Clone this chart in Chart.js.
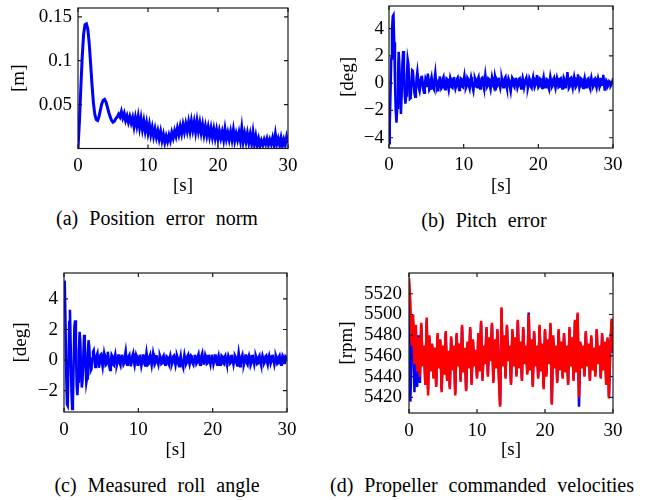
<!DOCTYPE html>
<html>
<head>
<meta charset="utf-8">
<script src="https://cdn.jsdelivr.net/npm/chart.js@4.4.1/dist/chart.umd.min.js"></script>
<style>
    html, body { margin: 0; padding: 0; background: #fff; }
    body { width: 655px; height: 500px; position: relative; overflow: hidden; }
    canvas { position: absolute; }
    .cap {
        position: absolute; width: 330px; text-align: center; white-space: nowrap;
        font-family: "Liberation Serif", "Times New Roman", serif; font-size: 20px;
        line-height: 24px; word-spacing: 6px; color: #000;
    }
</style>
</head>
<body>
<canvas id="chartA" width="305" height="200" style="left:0;top:0"></canvas>
<canvas id="chartB" width="305" height="200" style="left:320px;top:0"></canvas>
<canvas id="chartC" width="305" height="200" style="left:0;top:262px"></canvas>
<canvas id="chartD" width="305" height="200" style="left:320px;top:262px"></canvas>
<div class="cap" style="left:-8px;top:206px">(a) Position error norm</div>
<div class="cap" style="left:319px;top:208px">(b) Pitch error</div>
<div class="cap" style="left:-8px;top:473px">(c) Measured roll angle</div>
<div class="cap" style="left:317px;top:473px">(d) Propeller commanded velocities</div>
<script>
"use strict";

// time axis ticks, shared by all four plots [s]
var timeTicks = [0, 10, 20, 30];

// (a) position error norm [m], sampled every 0.2 s
var stepA = 0.2;
var posErr = [
    0, 0.030, 0.068, 0.104, 0.130, 0.141, 0.142, 0.136, 0.120, 0.097,
    0.073, 0.052, 0.039, 0.033, 0.032, 0.036, 0.044, 0.051, 0.055, 0.056,
    0.053, 0.047, 0.041, 0.036, 0.032, 0.030, 0.031, 0.034, 0.036, 0.039,
    0.036, 0.042, 0.035, 0.040, 0.032, 0.037, 0.030, 0.036, 0.029, 0.035,
    0.025, 0.035, 0.026, 0.036, 0.024, 0.034, 0.022, 0.031, 0.020, 0.029,
    0.018, 0.027, 0.016, 0.024, 0.014, 0.022, 0.013, 0.020, 0.011, 0.019,
    0.009, 0.016, 0.007, 0.014, 0.008, 0.015, 0.009, 0.018, 0.012, 0.020,
    0.014, 0.023, 0.016, 0.025, 0.017, 0.027, 0.019, 0.028, 0.020, 0.030,
    0.020, 0.031, 0.021, 0.030, 0.019, 0.031, 0.020, 0.029, 0.018, 0.027,
    0.016, 0.025, 0.015, 0.024, 0.014, 0.023, 0.013, 0.022, 0.012, 0.021,
    0.011, 0.020, 0.012, 0.019, 0.010, 0.022, 0.011, 0.018, 0.010, 0.019,
    0.010, 0.021, 0.009, 0.017, 0.010, 0.018, 0.009, 0.023, 0.008, 0.017,
    0.008, 0.017, 0.007, 0.016, 0.006, 0.018, 0.005, 0.014, 0.004, 0.011,
    0.003, 0.009, 0.004, 0.010, 0.005, 0.011, 0.004, 0.010, 0.005, 0.012,
    0.004, 0.016, 0.005, 0.011, 0.004, 0.012, 0.003, 0.010, 0.004, 0.013,
    0.006
];
var ticksA = [0.05, 0.1, 0.15];

// (b) pitch error [deg], sampled every 0.1 s
var stepB = 0.1;
var pitchErr = [
    -4.4, -3.0, -0.8, 1.8, 3.8, 4.9, 5.0, 3.0, 0.2, -2.0,
    -2.9, -1.8, 0.5, 2.3, 1.2, -1.0, -2.25, -0.8, 1.5, 2.35,
    1.0, -0.8, -1.5, -0.9, 0.6, 1.75, 1.4, 0.0, -1.15, -1.1,
    -0.2, 0.95, 0.9, 0.1, -0.7, -1.0, -0.5, 0.4, 0.85, 0.3,
    -0.4, -0.6, -0.2, 0.4, 0.55, 0.1, -0.5, -0.7, -0.1, 0.4,
    0.3, -0.2, 0.7, 0.2, -0.5, -0.4, 0.2, 0.45, 0.0, -0.35,
    -0.45, 0.3, 0.75, 0.1, -0.3, -0.1, -0.6, 0.2, 0.5, 0.0,
    -0.4, -0.3, 0.3, 0.45, -0.1, -0.45, -0.2, 0.35, 0.3, -0.2,
    -0.5, -0.1, 0.4, 0.2, -0.3, -0.35, 0.25, 0.45, -0.05, -0.4,
    -0.2, 0.3, 0.4, -0.1, -0.5, -0.15, 0.35, 0.3, -0.25, -0.3,
    0.2, 0.55, 0.1, -0.35, -0.2, 0.4, 0.3, -0.2, -0.4, 0.1,
    0.45, 0.2, -0.3, -0.55, 0.0, 0.4, 0.25, -0.25, -0.3, 0.3,
    0.45, -0.05, -0.4, -0.1, 0.35, 0.4, -0.1, -0.35, 0.1, 0.6,
    0.15, -0.3, -0.2, 0.35, 0.3, -0.2, -0.45, 0.0, 0.45, 0.2,
    -0.25, -0.35, 0.5, 0.25, -0.3, -0.2, 0.3, 0.4, -0.1, -0.35,
    0.0, 0.4, 0.15, -0.3, -0.25, 0.35, 0.45, -0.15, -0.4, 0.05,
    0.35, 0.2, -0.3, -0.6, -0.1, 0.4, 0.3, -0.2, -0.3, 0.25,
    0.4, 0.0, -0.35, -0.15, 0.3, 0.35, -0.1, -0.4, 0.1, 0.4,
    0.15, -0.3, -0.3, 0.25, 0.4, 0.0, -0.35, -0.1, 0.35, 0.2,
    -0.25, -0.35, 0.2, 0.45, 0.05, -0.3, -0.15, 0.3, 0.6, 0.1,
    -0.3, -0.2, 0.35, 0.3, -0.2, -0.35, 0.2, 0.45, -0.05, -0.3,
    -0.15, 0.3, 0.25, -0.25, -0.4, 0.1, 0.5, 0.2, -0.3, -0.2,
    0.3, 0.4, -0.1, -0.35, 0.05, 0.4, 0.2, -0.3, -0.25, 0.3,
    0.35, -0.1, -0.4, 0.0, 0.4, 0.25, -0.3, -0.2, 0.3, 0.8,
    0.2, -0.35, -0.25, 0.35, 0.4, -0.1, -0.35, 0.1, 0.45, 0.15,
    -0.3, -0.2, 0.3, 0.65, 0.1, -0.35, -0.15, 0.35, 0.3, -0.25,
    -0.35, 0.15, 0.4, 0.05, -0.3, -0.1, 0.3, 0.35, -0.2, -0.35,
    0.1, 0.4, 0.1, -0.3, -0.2, 0.3, 0.35, -0.15, -0.35, 0.05,
    0.35, 0.1, -0.3, -0.2, 0.3, 0.35, -0.2, 0.6, 0.0, -0.55,
    -0.1, 0.2, 0.1, -0.25, -0.15, 0.15, 0.1, -0.2, -0.1, 0.1,
    -0.1
];
var ticksB = [-4, -2, 0, 2, 4];

// (c) measured roll angle [deg], sampled every 0.1 s
var stepC = 0.1;
var rollAngle = [
    4.0, 5.2, 2.5, -1.0, -2.9, -3.0, -0.5, 2.5, 3.3, 1.0,
    -2.0, -3.2, -2.8, -0.2, 2.2, 2.6, 1.0, -1.6, -2.3, -1.4,
    0.6, 1.85, 1.2, -0.8, -1.8, -1.3, 0.3, 1.65, 1.2, -0.5,
    -1.5, -1.2, 0.3, 1.3, 0.9, -0.3, -0.7, -0.6, 0.1, 0.55,
    0.65, 0.1, -0.45, -0.3, 0.3, 0.45, -0.1, -0.5, -0.2, 0.35,
    0.4, -0.15, -0.45, 0.0, 0.45, 0.2, -0.35, -0.3, 0.25, 0.55,
    0.1, -0.45, -0.65, -0.1, 0.35, 0.25, -0.3, -0.35, 0.2, 0.4,
    0.0, -0.35, -0.15, 0.3, 0.3, -0.2, -0.35, 0.1, 0.35, 0.05,
    -0.3, -0.2, 0.3, 0.6, 0.1, -0.3, -0.25, 0.25, 0.35, -0.1,
    -0.4, -0.1, 0.3, 0.45, -0.1, -0.35, 0.0, 0.35, 0.2, -0.3,
    -0.3, 0.15, 0.35, -0.05, -0.4, -0.15, 0.3, 0.3, -0.2, -0.35,
    0.1, 0.5, 0.15, -0.3, -0.25, 0.2, 0.35, -0.05, -0.35, 0.0,
    0.45, 0.2, -0.3, -0.2, 0.25, 0.3, -0.1, -0.3, 0.05, 0.3,
    0.15, -0.25, -0.2, 0.2, 0.3, -0.05, -0.3, -0.1, 0.25, 0.2,
    -0.2, -0.3, 0.1, 0.3, 0.0, -0.3, -0.15, 0.25, 0.3, -0.1,
    -0.35, -0.05, 0.3, 0.15, -0.3, -0.4, 0.05, 0.3, -0.1, -0.3,
    -0.45, 0.0, 0.35, 0.1, -0.3, -0.2, 0.25, 0.35, -0.05, -0.3,
    -0.1, 0.3, 0.25, -0.2, -0.3, 0.05, 0.35, 0.1, -0.25, -0.15,
    0.25, 0.4, 0.0, -0.3, -0.1, 0.3, 0.45, -0.05, -0.3, 0.0,
    0.35, 0.2, -0.25, -0.2, 0.25, 0.35, -0.1, -0.3, 0.1, 0.35,
    0.05, -0.3, -0.1, 0.3, 0.3, -0.15, -0.3, 0.1, 0.3, 0.0,
    -0.3, -0.1, 0.3, 0.25, -0.2, -0.25, 0.2, 0.3, -0.1, -0.3,
    0.05, 0.3, 0.15, -0.25, -0.2, 0.25, 0.35, -0.05, -0.3, 0.0,
    0.3, 0.2, -0.2, -0.35, 0.1, 0.5, 0.15, -0.4, -0.3, 0.2,
    0.35, 0.0, -0.3, -0.1, 0.3, 0.3, -0.2, -0.3, 0.1, 0.3,
    0.1, -0.35, -0.2, 0.25, 0.35, -0.05, -0.3, 0.0, 0.3, 0.15,
    -0.25, -0.2, 0.2, 0.3, -0.1, -0.3, 0.05, 0.3, 0.1, -0.25,
    -0.15, 0.25, 0.3, -0.1, -0.3, 0.1, 0.3, 0.05, -0.25, -0.1,
    0.25, 0.35, -0.05, -0.3, 0.0, 0.3, 0.15, -0.25, -0.2, 0.2,
    0.3, -0.05, -0.3, 0.05, 0.3, 0.2, -0.2, -0.15, 0.25, 0.2,
    -0.1
];
var ticksC = [-2, 0, 2, 4];

// (d) propeller commanded velocities [rpm], sampled every 0.2 s
var stepD = 0.2;
var rpmBlue = [
    5530, 5416, 5466, 5494, 5425, 5488, 5430, 5480, 5434, 5490,
    5452, 5468, 5434, 5494, 5428, 5478, 5447, 5470, 5440, 5466,
    5432, 5480, 5450, 5474, 5427, 5468, 5444, 5482, 5438, 5463,
    5430, 5477, 5448, 5468, 5424, 5480, 5452, 5470, 5437, 5488,
    5446, 5466, 5428, 5472, 5450, 5486, 5434, 5474, 5452, 5464,
    5440, 5480, 5447, 5492, 5438, 5468, 5454, 5486, 5442, 5476,
    5457, 5490, 5436, 5474, 5450, 5484, 5444, 5413, 5505, 5452,
    5478, 5440, 5488, 5457, 5468, 5434, 5484, 5452, 5476, 5442,
    5493, 5450, 5472, 5438, 5486, 5454, 5468, 5444, 5502, 5448,
    5474, 5432, 5482, 5452, 5468, 5440, 5488, 5447, 5470, 5430,
    5484, 5442, 5474, 5454, 5490, 5415, 5478, 5450, 5468, 5436,
    5484, 5448, 5472, 5440, 5480, 5446, 5468, 5434, 5486, 5452,
    5476, 5438, 5493, 5446, 5500, 5411, 5472, 5450, 5468, 5442,
    5482, 5452, 5470, 5438, 5478, 5448, 5466, 5442, 5484, 5454,
    5468, 5440, 5480, 5448, 5472, 5434, 5476, 5421, 5466, 5494,
    5463
];
var rpmRed = [
    5535, 5512, 5470, 5500, 5452, 5490, 5445, 5478, 5440, 5492,
    5450, 5470, 5432, 5497, 5422, 5480, 5445, 5472, 5438, 5468,
    5430, 5482, 5448, 5476, 5425, 5470, 5442, 5484, 5436, 5465,
    5428, 5479, 5446, 5470, 5422, 5482, 5450, 5472, 5435, 5490,
    5444, 5468, 5426, 5474, 5448, 5488, 5432, 5476, 5450, 5466,
    5438, 5482, 5445, 5494, 5436, 5470, 5452, 5488, 5440, 5478,
    5455, 5492, 5434, 5476, 5448, 5486, 5442, 5411, 5507, 5450,
    5480, 5438, 5490, 5455, 5470, 5432, 5486, 5450, 5478, 5440,
    5495, 5448, 5474, 5436, 5488, 5452, 5470, 5442, 5500, 5446,
    5476, 5430, 5484, 5450, 5470, 5438, 5490, 5445, 5472, 5428,
    5486, 5440, 5476, 5452, 5492, 5413, 5480, 5448, 5470, 5434,
    5486, 5446, 5474, 5438, 5482, 5444, 5470, 5432, 5488, 5450,
    5478, 5436, 5495, 5444, 5502, 5420, 5474, 5448, 5470, 5440,
    5484, 5450, 5472, 5436, 5480, 5446, 5468, 5440, 5486, 5452,
    5470, 5438, 5482, 5446, 5474, 5432, 5478, 5419, 5468, 5496,
    5465
];
var ticksD = [5420, 5440, 5460, 5480, 5500, 5520];

var axisFont = { family: '"Liberation Serif", "Times New Roman", serif', size: 19 };

function fmtTick(v) {
    return v < 0 ? '\u2212' + String(-v) : String(v);
}

function toPoints(values, step) {
    return values.map(function (v, i) {
        return { x: i * step, y: v };
    });
}

// MATLAB-like box with inward tick marks on all four sides
var boxPlugin = {
    id: 'boxPlugin',
    afterDraw: function (chart) {
        var a = chart.chartArea, ctx = chart.ctx;
        var xs = chart.scales.x, ys = chart.scales.y;
        var len = 4;
        ctx.save();
        ctx.strokeStyle = '#1a1a1a';
        ctx.lineWidth = 1.2;
        ctx.strokeRect(a.left, a.top, a.right - a.left, a.bottom - a.top);
        ctx.beginPath();
        xs.ticks.forEach(function (t) {
            var px = xs.getPixelForValue(t.value);
            ctx.moveTo(px, a.bottom); ctx.lineTo(px, a.bottom - len);
            ctx.moveTo(px, a.top); ctx.lineTo(px, a.top + len);
        });
        ys.ticks.forEach(function (t) {
            var py = ys.getPixelForValue(t.value);
            ctx.moveTo(a.left, py); ctx.lineTo(a.left + len, py);
            ctx.moveTo(a.right, py); ctx.lineTo(a.right - len, py);
        });
        ctx.stroke();
        ctx.restore();
    }
};

function makeChart(id, o) {
    var ctx = document.getElementById(id);
    return new Chart(ctx, {
        type: 'line',
        data: {
            datasets: o.series.map(function (s) {
                return {
                    data: toPoints(s.values, o.step),
                    borderColor: s.color,
                    borderWidth: o.lineWidth,
                    pointRadius: 0,
                    tension: 0,
                    fill: false
                };
            })
        },
        options: {
            responsive: false,
            animation: false,
            events: [],
            layout: { padding: o.pad },
            plugins: { legend: { display: false }, tooltip: { enabled: false } },
            scales: {
                x: {
                    type: 'linear', min: 0, max: 30,
                    grid: { display: false, drawTicks: false },
                    border: { display: false },
                    afterBuildTicks: function (s) {
                        s.ticks = timeTicks.map(function (v) { return { value: v }; });
                    },
                    ticks: { font: axisFont, color: '#000', padding: o.xTickPad, maxRotation: 0, autoSkip: false, callback: fmtTick },
                    title: { display: true, text: '[s]', font: axisFont, color: '#000', padding: { top: 0, bottom: o.xTitlePad } },
                    afterFit: function (s) {
                        s.height = o.xHeight;
                        s.paddingLeft = 0; s.paddingRight = 0;
                    }
                },
                y: {
                    type: 'linear', min: o.yMin, max: o.yMax,
                    grid: { display: false, drawTicks: false },
                    border: { display: false },
                    afterBuildTicks: function (s) {
                        s.ticks = o.yTicks.map(function (v) { return { value: v }; });
                    },
                    ticks: { font: axisFont, color: '#000', padding: o.yTickPad, autoSkip: false, callback: fmtTick },
                    title: { display: true, text: o.yTitle, font: axisFont, color: '#000', padding: { top: o.yTitlePad, bottom: 0 } },
                    afterFit: function (s) {
                        s.width = o.yWidth;
                        s.paddingTop = 0; s.paddingBottom = 0;
                    }
                }
            }
        },
        plugins: [boxPlugin]
    });
}

makeChart('chartA', {
    step: stepA, series: [{ values: posErr, color: '#0000ff' }], lineWidth: 3,
    yMin: 0, yMax: 0.16, yTicks: ticksA, yTitle: '[m]',
    pad: { left: 0, top: 8, right: 17, bottom: 0 },
    yWidth: 78, xHeight: 51.5, xTickPad: 6, xTitlePad: 3, yTickPad: 6, yTitlePad: 8
});

makeChart('chartB', {
    step: stepB, series: [{ values: pitchErr, color: '#0000ff' }], lineWidth: 2.5,
    yMin: -4.75, yMax: 5.65, yTicks: ticksB, yTitle: '[deg]',
    pad: { left: 0, top: 6, right: 12, bottom: 0 },
    yWidth: 69, xHeight: 52, xTickPad: 6, xTitlePad: 3, yTickPad: 5, yTitlePad: 17
});

makeChart('chartC', {
    step: stepC, series: [{ values: rollAngle, color: '#0000ff' }], lineWidth: 2.5,
    yMin: -3.4, yMax: 5.7, yTicks: ticksC, yTitle: '[deg]',
    pad: { left: 0, top: 11, right: 18, bottom: 0 },
    yWidth: 64, xHeight: 50, xTickPad: 7, xTitlePad: 1, yTickPad: 6, yTitlePad: 10
});

// red dataset first so it is painted over the blue one
makeChart('chartD', {
    step: stepD, series: [{ values: rpmRed, color: '#ff0000' }, { values: rpmBlue, color: '#0000ff' }], lineWidth: 2.5,
    yMin: 5405, yMax: 5540, yTicks: ticksD, yTitle: '[rpm]',
    pad: { left: 0, top: 11, right: 12, bottom: 0 },
    yWidth: 89, xHeight: 49, xTickPad: 7, xTitlePad: 1, yTickPad: 7, yTitlePad: 16
});
</script>
</body>
</html>
